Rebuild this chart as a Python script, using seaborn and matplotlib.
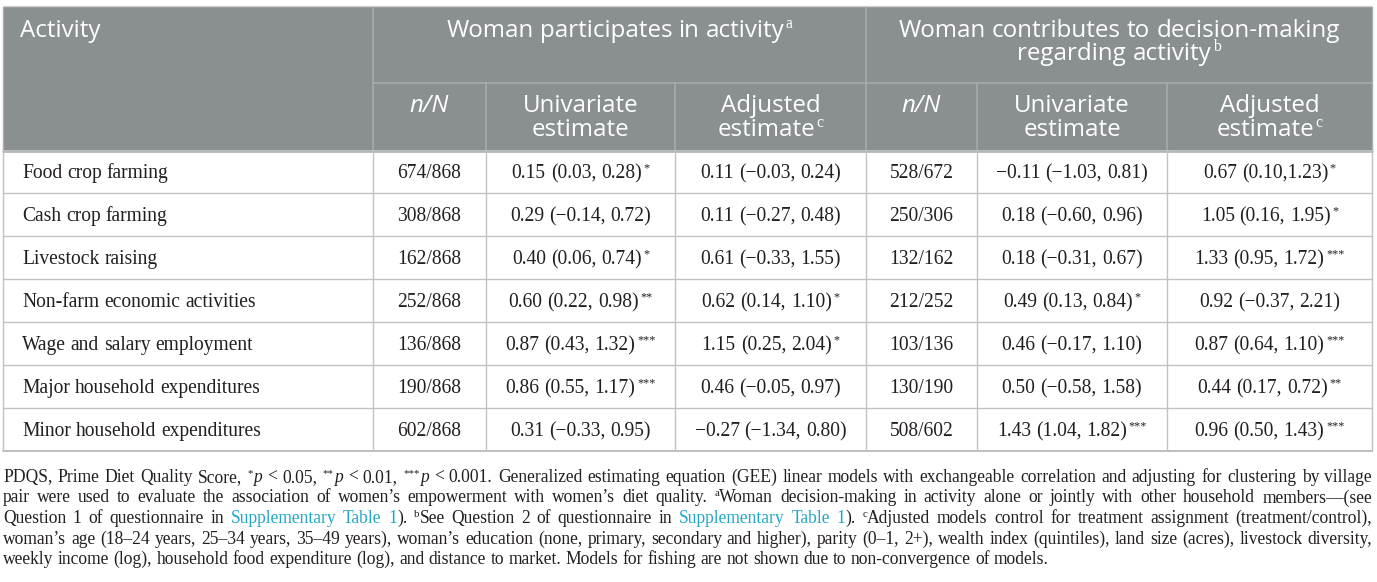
import matplotlib
matplotlib.use("Agg")
import matplotlib.pyplot as plt
from matplotlib.patches import Rectangle
import seaborn as sns
import re

# ---------------- data ----------------
activities = ["Food crop farming", "Cash crop farming", "Livestock raising",
              "Non-farm economic activities", "Wage and salary employment",
              "Major household expenditures", "Minor household expenditures"]
part_nN = ["674/868", "308/868", "162/868", "252/868", "136/868", "190/868", "602/868"]
part_uni = ["0.15 (0.03, 0.28)*", "0.29 (\u22120.14, 0.72)", "0.40 (0.06, 0.74)*",
            "0.60 (0.22, 0.98)**", "0.87 (0.43, 1.32)***", "0.86 (0.55, 1.17)***",
            "0.31 (\u22120.33, 0.95)"]
part_adj = ["0.11 (\u22120.03, 0.24)", "0.11 (\u22120.27, 0.48)", "0.61 (\u22120.33, 1.55)",
            "0.62 (0.14, 1.10)*", "1.15 (0.25, 2.04)*", "0.46 (\u22120.05, 0.97)",
            "\u22120.27 (\u22121.34, 0.80)"]
dec_nN = ["528/672", "250/306", "132/162", "212/252", "103/136", "130/190", "508/602"]
dec_uni = ["\u22120.11 (\u22121.03, 0.81)", "0.18 (\u22120.60, 0.96)", "0.18 (\u22120.31, 0.67)",
           "0.49 (0.13, 0.84)*", "0.46 (\u22120.17, 1.10)", "0.50 (\u22120.58, 1.58)",
           "1.43 (1.04, 1.82)***"]
dec_adj = ["0.67 (0.10,1.23)*", "1.05 (0.16, 1.95)*", "1.33 (0.95, 1.72)***",
           "0.92 (\u22120.37, 2.21)", "0.87 (0.64, 1.10)***", "0.44 (0.17, 0.72)**",
           "0.96 (0.50, 1.43)***"]
group_titles = ["Woman participates in activity", "Woman contributes to decision-making",
                "regarding activity"]
sub_headers = [["n/N"], ["Univariate", "estimate"], ["Adjusted", "estimate"]]

# ---------------- setup ----------------
sns.set_theme(style="white")
plt.rcParams['font.family'] = ['DejaVu Sans']

W, H = 1377, 582
fig = plt.figure(figsize=(W / 100, H / 100), dpi=100)
ax = fig.add_axes([0, 0, 1, 1])
ax.set_xlim(0, W)
ax.set_ylim(H, 0)
ax.axis('off')
renderer = fig.canvas.get_renderer()

SANS = 'Open Sans'
SERIF = 'Liberation Serif'
INK = '#231f20'
LINK = '#25a7c4'
PX = 100 / 72.0


def measure(s, family, size, style='normal'):
    t = ax.text(0, 0, s, family=family, fontsize=size, fontstyle=style)
    w = t.get_window_extent(renderer).width
    t.remove()
    return w


def st(family, size, style='normal', color=INK, sup=False):
    return dict(family=family, size=size, style=style, color=color, sup=sup)


def run_size(s):
    return s['size'] * (0.62 if s['sup'] else 1.0)


def tokenize(segs):
    tokens = []
    pending = False
    cur = None
    for text, s in segs:
        parts = text.split(' ')
        for i, p in enumerate(parts):
            if i > 0:
                pending = True
                cur = None
            if p:
                if cur is None:
                    cur = [[], pending and bool(tokens)]
                    tokens.append(cur)
                    pending = False
                cur[0].append((p, s))
    return tokens


def space_w(s):
    return measure("n n", s['family'], s['size'], s['style']) - \
        measure("nn", s['family'], s['size'], s['style'])


SUP_GAP = 1.5


def layout(segs):
    tokens = tokenize(segs)
    widths = []
    for runs, _ in tokens:
        ws = []
        for idx, (p, s) in enumerate(runs):
            w = measure(p, s['family'], run_size(s), s['style'])
            if s['sup'] and idx > 0:
                w += SUP_GAP
            ws.append(w)
        widths.append(ws)
    gaps = [space_w(runs[0][1]) if sp else 0.0 for runs, sp in tokens]
    natural = sum(sum(w) for w in widths) + sum(gaps)
    return tokens, widths, gaps, natural


def draw_line(segs, x, y, align='left', width=None, justify=False):
    tokens, widths, gaps, natural = layout(segs)
    n_gaps = sum(1 for g in gaps if g > 0)
    extra = 0.0
    if justify and n_gaps:
        extra = max(0.0, (width - natural) / n_gaps)
    cx = x - natural / 2 if align == 'center' else x
    for (runs, sp), ws, g in zip(tokens, widths, gaps):
        if g > 0:
            cx += g + extra
        for idx, ((p, s), w) in enumerate(zip(runs, ws)):
            off = SUP_GAP if (s['sup'] and idx > 0) else 0.0
            yy = y - (0.36 * s['size'] * PX if s['sup'] else 0)
            ax.text(cx + off, yy, p, family=s['family'], fontsize=run_size(s),
                    fontstyle=s['style'], color=s['color'], ha='left', va='baseline')
            cx += w


body_fs = 10 * 239 / measure("Minor household expenditures", SERIF, 10)
head_fs = 10 * 116 / measure("Univariate", SANS, 10)

# ---------------- footnote text ----------------
line5 = ("weekly income (log), household food expenditure (log), and distance to market. "
         "Models for fishing are not shown due to non-convergence of models.")


def foot_lines_for(size):
    fs = st(SERIF, size)
    fi = st(SERIF, size, 'italic')
    fsup = st(SERIF, size, sup=True)
    fl = st(SERIF, size, color=LINK)
    return [
        [("PDQS, Prime Diet Quality Score, ", fs), ("*", fsup), ("p", fi), (" < 0.05, ", fs),
         ("**", fsup), ("p", fi), (" < 0.01, ", fs), ("***", fsup), ("p", fi),
         (" < 0.001. Generalized estimating equation (GEE) linear models with exchangeable "
          "correlation and adjusting for clustering by village", fs)],
        [("pair were used to evaluate the association of women\u2019s empowerment with "
          "women\u2019s diet quality. ", fs), ("a", fsup),
         ("Woman decision-making in activity alone or jointly with other household "
          "members\u2014(see", fs)],
        [("Question 1 of questionnaire in ", fs), ("Supplementary Table 1", fl), ("). ", fs),
         ("b", fsup), ("See Question 2 of questionnaire in ", fs),
         ("Supplementary Table 1", fl), ("). ", fs), ("c", fsup),
         ("Adjusted models control for treatment assignment (treatment/control),", fs)],
        [("woman\u2019s age (18\u201324 years, 25\u201334 years, 35\u201349 years), woman\u2019s "
          "education (none, primary, secondary and higher), parity (0\u20131, 2+), wealth index "
          "(quintiles), land size (acres), livestock diversity,", fs)],
        [(line5, fs)],
    ]


XL, XR = 3, 1372
nat10 = [layout(segs)[3] for segs in foot_lines_for(10)]
foot_fs = min(10 * 1097 / nat10[4], 10 * (XR - XL - 12) / max(nat10[:4]))

# ---------------- geometry ----------------
cols = [3, 373, 486, 675, 866, 977, 1167, 1372]
Y_TOP, Y_MID, Y_HEAD = 7, 83, 150
ROW_H = 43
n_rows = len(activities)
Y_BOT = Y_HEAD + ROW_H * n_rows

HEAD_BG = '#8a8f91'
HEAD_LINE = '#a9adaf'
GRID = '#c2c2c2'

ax.add_patch(Rectangle((XL, Y_TOP), XR - XL, Y_HEAD - Y_TOP, facecolor=HEAD_BG,
                       edgecolor='none', zorder=0))
ax.plot([XL, XR], [5.5, 5.5], color='#d4d4d4', lw=1.0)
ax.plot([cols[1], XR], [Y_MID, Y_MID], color=HEAD_LINE, lw=1.1)
for cx in (cols[1], cols[4]):
    ax.plot([cx, cx], [Y_TOP, Y_HEAD], color=HEAD_LINE, lw=1.1)
for cx in (cols[2], cols[3], cols[5], cols[6]):
    ax.plot([cx, cx], [Y_MID, Y_HEAD], color=HEAD_LINE, lw=1.1)
ax.plot([XL, XR], [Y_HEAD + 0.5, Y_HEAD + 0.5], color='#b3b6b8', lw=2.0)
for i in range(1, n_rows):
    yy = Y_HEAD + ROW_H * i
    ax.plot([XL, XR], [yy, yy], color=GRID, lw=1.0)
ax.plot([XL, XR], [Y_BOT, Y_BOT], color='#b8b8b8', lw=1.3)
for cx in cols:
    ax.plot([cx, cx], [Y_HEAD, Y_BOT], color=GRID, lw=1.0)
ax.plot([XL, XL], [Y_TOP, Y_HEAD], color='#a9adaf', lw=1.0)
ax.plot([XR, XR], [Y_TOP, Y_HEAD], color='#a9adaf', lw=1.0)

# ---------------- header text ----------------
WH = 'white'
hs = st(SANS, head_fs, color=WH)
hsup = st(SERIF, head_fs * 1.05, color=WH, sup=True)
B1, B2 = 37, 60
draw_line([("Activity", hs)], 20, B1)
draw_line([(group_titles[0], hs), ("a", hsup)], (cols[1] + cols[4]) / 2, B1, align='center')
draw_line([(group_titles[1], hs)], (cols[4] + XR) / 2, B1, align='center')
draw_line([(group_titles[2], hs), ("b", hsup)], (cols[4] + XR) / 2, B2, align='center')
SB1, SB2 = 112, 136
for g in range(2):
    for j, lines in enumerate(sub_headers):
        c0, c1 = cols[1 + 3 * g + j], cols[2 + 3 * g + j]
        cxm = (c0 + c1) / 2
        for k, ln in enumerate(lines):
            yb = SB1 if k == 0 else SB2
            if ln == "n/N":
                segs = [(ln, st(SANS, head_fs, 'italic', WH))]
            elif j == 2 and k == 1:
                segs = [(ln, hs), ("c", hsup)]
            else:
                segs = [(ln, hs)]
            draw_line(segs, cxm, yb, align='center')

# ---------------- body ----------------
bs = st(SERIF, body_fs)
bsup = st(SERIF, body_fs, sup=True)


def est_segs(s):
    m = re.match(r"^(.*?)(\**)$", s)
    segs = [(m.group(1), bs)]
    if m.group(2):
        segs.append((m.group(2), bsup))
    return segs


columns = [part_nN, part_uni, part_adj, dec_nN, dec_uni, dec_adj]
for i in range(n_rows):
    yb = Y_HEAD + ROW_H * i + 28
    draw_line([(activities[i], bs)], 22, yb)
    for j, colvals in enumerate(columns):
        cxm = (cols[1 + j] + cols[2 + j]) / 2
        draw_line(est_segs(colvals[i]), cxm, yb, align='center')

# ---------------- footnote ----------------
foot_lines = foot_lines_for(foot_fs)
for k, segs in enumerate(foot_lines):
    yb = 482 + 20.5 * k
    draw_line(segs, XL, yb, width=XR - XL, justify=(k < len(foot_lines) - 1))

fig.savefig("out.png", dpi=100)
